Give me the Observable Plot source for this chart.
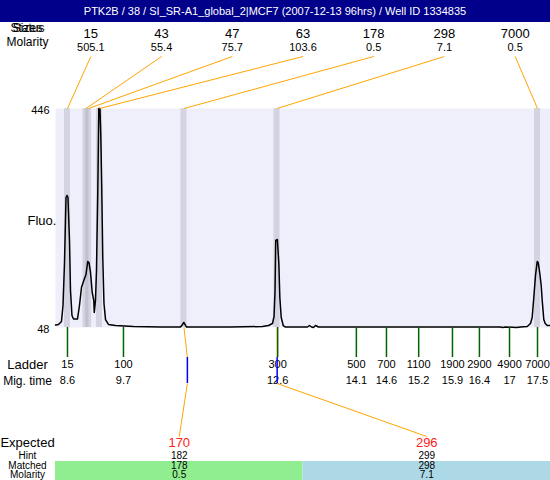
<!DOCTYPE html>
<html><head><meta charset="utf-8">
<script src="https://cdn.jsdelivr.net/npm/d3@7"></script>
<script src="https://cdn.jsdelivr.net/npm/@observablehq/plot@0.6"></script>
<style>
body{margin:0;background:#fff;font-family:"Liberation Sans",Arial,sans-serif}
#title{width:550px;height:22px;background:#00008b;color:#fff;font-size:11px;line-height:22px;text-align:center;white-space:nowrap}
#chart svg{display:block}
</style></head><body>
<div id="title">PTK2B / 38 / SI_SR-A1_global_2|MCF7 (2007-12-13 96hrs) / Well ID 1334835</div>
<div id="chart"></div>
<script>
// ---- data ----
const peakSizes = [15, 43, 47, 63, 178, 298, 7000];
const peakMolarity = ["505.1", "55.4", "75.7", "103.6", "0.5", "7.1", "0.5"];
const peakTime = [8.6, 8.95, 9.0, 9.206, 10.806, 12.567, 17.5];

const ladderSizes = [15, 100, 300, 500, 700, 1100, 1900, 2900, 4900, 7000];
const ladderTime = [8.6, 9.66, 12.58, 14.07, 14.64, 15.25, 15.89, 16.40, 16.97, 17.5];
const ladderTimeLabels = ["8.6", "9.7", "12.6", "14.1", "14.6", "15.2", "15.9", "16.4", "17", "17.5"];

const curveTime = [8.373, 8.430, 8.486, 8.515, 8.543, 8.572, 8.591, 8.609, 8.638, 8.657, 8.685, 8.714, 8.789, 8.827, 8.865, 8.909, 8.950, 8.984, 9.007, 9.036, 9.068, 9.098, 9.107, 9.130, 9.149, 9.174, 9.193, 9.215, 9.231, 9.248, 9.268, 9.291, 9.320, 9.376, 9.509, 9.850, 10.361, 10.740, 10.778, 10.802, 10.825, 10.853, 11.687, 12.293, 12.406, 12.482, 12.511, 12.530, 12.543, 12.574, 12.587, 12.602, 12.621, 12.647, 12.685, 12.728, 13.145, 13.182, 13.220, 13.258, 13.296, 13.353, 13.959, 14.906, 16.799, 16.837, 16.894, 17.102, 17.178, 17.305, 17.367, 17.399, 17.430, 17.462, 17.494, 17.513, 17.544, 17.570, 17.589, 17.619, 17.646, 17.684, 17.746];
const curveFluo = [52.5, 53.5, 58.9, 88, 164.3, 284.3, 288, 284.3, 206.1, 115.2, 69.8, 63.4, 63.4, 88, 120.7, 133.4, 144.3, 168, 166.1, 148, 111.6, 97.1, 75.3, 97.1, 151.6, 297, 446, 446, 396.9, 306.1, 175.2, 91.6, 62.5, 53.5, 51.6, 49.8, 48.9, 48.9, 53.5, 57.1, 53.5, 48.9, 48.9, 49.8, 51.6, 55.3, 68, 115.2, 206.1, 207.9, 187.9, 164.3, 102.5, 66.2, 51.6, 48.9, 48.9, 51.6, 48.9, 48, 51.6, 48.9, 48.9, 48.9, 48.9, 48, 48.9, 48, 48.9, 49.8, 55.3, 66.2, 102.5, 142.5, 168, 166.1, 146.1, 124.3, 97.1, 62.5, 55.3, 51.6, 51.6];

const expectedSize = [170, 296];
const hintSize = [182, 299];
const hintTime = [10.87, 12.57];
const matchedSize = [178, 298];
const matchedTime = [10.806, 12.567];
const matchedMolarity = ["0.5", "7.1"];
const matchedFill = ["#90ee90", "#add8e6"];

const yTicks = [48, 446];
const xDomain = [8.373, 17.746];

// ---- layout ----
const W = 550, H = 458, ML = 55, MT = 86, MB = 153;
const yLo = yTicks[0], yHi = yTicks[1];
const k = (yHi - yLo) / (H - MT - MB);
const above = px => yHi + px * k;
const below = px => yLo - px * k;
const span = xDomain[1] - xDomain[0];
const topCol = i => xDomain[0] + (i + 0.5) * span / peakSizes.length;
const botEdge = i => xDomain[0] + i * span / expectedSize.length;
const botCol = i => xDomain[0] + (i + 0.5) * span / expectedSize.length;
const bandHalf = 0.057;
const orange = "#ffa500";
const curve = curveTime.map((t, i) => ({t, f: curveFluo[i]}));
const leftLabel = (txt, y, size) => Plot.text([txt], {frameAnchor: "left", dx: -28, y: () => y, text: d => d, fontSize: size, textAnchor: "middle"});

const chart = Plot.plot({
  width: W, height: H,
  marginLeft: ML, marginRight: 0, marginTop: MT, marginBottom: MB,
  x: {domain: xDomain, axis: null},
  y: {domain: [yLo, yHi], axis: null},
  color: {type: "identity"},
  style: {fontFamily: "'Liberation Sans', Arial, sans-serif", fontSize: "11px", background: "white", overflow: "visible"},
  marks: [
    Plot.frame({fill: "#efeffc", stroke: "none"}),
    Plot.barX(peakTime, {x1: d => d - bandHalf, x2: d => d + bandHalf, fill: "#a0a0b0", fillOpacity: 0.35}),
    Plot.line(curve, {x: "t", y: "f", stroke: "black", strokeWidth: 1.5}),
    // top annotations
    Plot.link(peakTime, {x1: (d, i) => topCol(i), y1: () => above(52), x2: d => d, y2: () => yHi, stroke: orange, strokeWidth: 1}),
    Plot.text(peakSizes, {x: (d, i) => topCol(i), y: () => above(75), text: d => String(d), fontSize: 13}),
    Plot.text(peakMolarity, {x: (d, i) => topCol(i), y: () => above(61), text: d => d, fontSize: 11}),
    leftLabel("Sizes", above(80), 12),
    leftLabel("Status", above(80), 12),
    leftLabel("Molarity", above(66), 12),
    // y labels
    Plot.text(yTicks, {y: d => d, frameAnchor: "left", dx: -6, dy: 2, textAnchor: "end", text: d => String(d), fontSize: 11}),
    Plot.text(["Fluo."], {frameAnchor: "left", dx: -28, dy: 3, text: d => d, fontSize: 13}),
    // ladder
    Plot.link(matchedTime, {x1: d => d, y1: () => yLo, x2: (d, i) => hintTime[i], y2: () => below(30), stroke: orange, strokeWidth: 1}),
    Plot.ruleX(ladderTime, {x: d => d, y1: () => yLo, y2: () => below(30), stroke: "#006400", strokeWidth: 1.5}),
    Plot.text(ladderSizes, {x: (d, i) => ladderTime[i], y: () => below(37), text: d => String(d), fontSize: 11}),
    Plot.text(ladderTimeLabels, {x: (d, i) => ladderTime[i], y: () => below(53), text: d => d, fontSize: 11}),
    leftLabel("Ladder", below(37), 13),
    leftLabel("Mig. time", below(54), 12),
    // expected / hint links
    Plot.ruleX(hintTime, {x: d => d, y1: () => below(30), y2: () => below(56), stroke: "#0000ff", strokeWidth: 1.5}),
    Plot.link(hintTime, {x1: d => d, y1: () => below(56), x2: (d, i) => botCol(i), y2: () => below(109), stroke: orange, strokeWidth: 1}),
    // bottom table
    Plot.rect(matchedFill, {x1: (d, i) => botEdge(i), x2: (d, i) => botEdge(i + 1), y1: () => below(134), y2: () => below(153), fill: d => d}),
    Plot.text(expectedSize, {x: (d, i) => botCol(i), y: () => below(115), text: d => String(d), fill: "#ff2020", fontSize: 13}),
    Plot.text(hintSize, {x: (d, i) => botCol(i), y: () => below(128), text: d => String(d), fontSize: 10}),
    Plot.text(matchedSize, {x: (d, i) => botCol(i), y: () => below(138), text: d => String(d), fontSize: 10}),
    Plot.text(matchedMolarity, {x: (d, i) => botCol(i), y: () => below(147.5), text: d => d, fontSize: 10}),
    leftLabel("Expected", below(115.5), 13),
    leftLabel("Hint", below(128), 10),
    leftLabel("Matched", below(138), 10),
    leftLabel("Molarity", below(147.5), 10)
  ]
});
document.getElementById("chart").appendChild(chart);
</script>
</body></html>
